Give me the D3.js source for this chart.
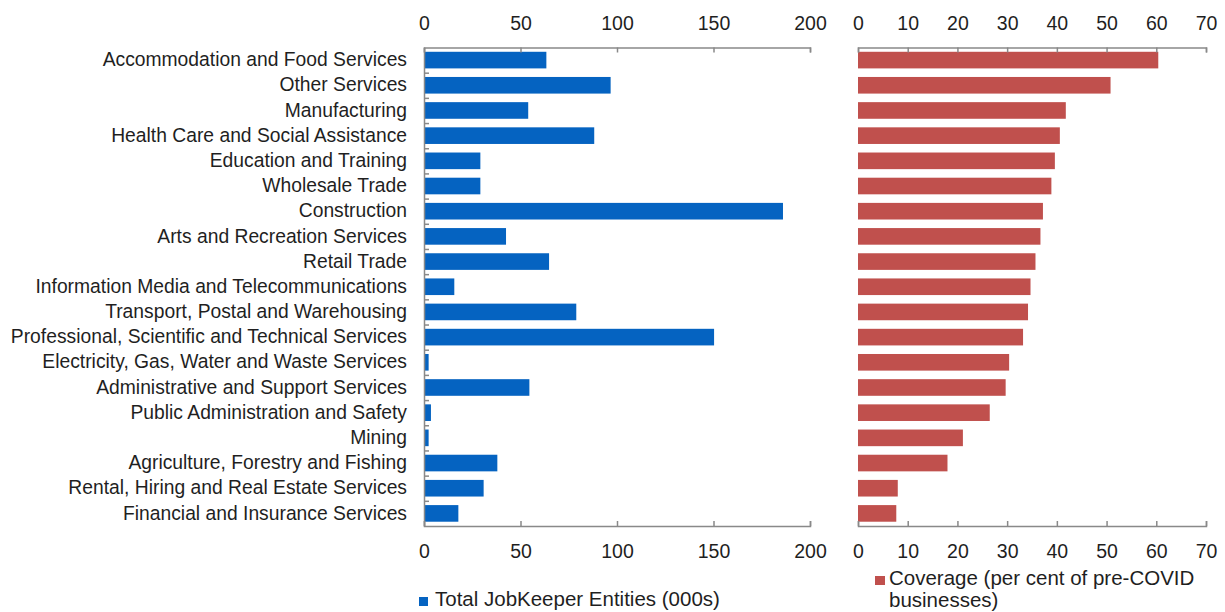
<!DOCTYPE html>
<html>
<head>
<meta charset="utf-8">
<script src="https://cdn.jsdelivr.net/npm/d3@7"></script>
<style>
  body { margin: 0; background: #fff; }
  svg { display: block; font-family: "Liberation Sans", Arial, sans-serif; }
  .axis path, .axis line { stroke: #898989; stroke-width: 1.5; }
  .axis text { fill: #1f1f1f; }
</style>
</head>
<body>
<div class="chart"></div>
<script>
// categories, top to bottom
var industries = [
  "Accommodation and Food Services",
  "Other Services",
  "Manufacturing",
  "Health Care and Social Assistance",
  "Education and Training",
  "Wholesale Trade",
  "Construction",
  "Arts and Recreation Services",
  "Retail Trade",
  "Information Media and Telecommunications",
  "Transport, Postal and Warehousing",
  "Professional, Scientific and Technical Services",
  "Electricity, Gas, Water and Waste Services",
  "Administrative and Support Services",
  "Public Administration and Safety",
  "Mining",
  "Agriculture, Forestry and Fishing",
  "Rental, Hiring and Real Estate Services",
  "Financial and Insurance Services"
];

// total JobKeeper entities (000s)
var entities = [63.4, 96.7, 54.0, 88.2, 29.2, 29.2, 186.0, 42.5, 64.8, 15.7,
  78.9, 150.3, 2.4, 54.6, 3.6, 2.4, 38.0, 30.9, 17.8];

// coverage, per cent of pre-COVID businesses
var coverage = [60.4, 50.8, 41.8, 40.6, 39.6, 38.9, 37.2, 36.7, 35.7, 34.7,
  34.2, 33.2, 30.4, 29.7, 26.5, 21.1, 18.0, 8.0, 7.7];

var entitiesTicks = [0, 50, 100, 150, 200];
var coverageTicks = [0, 10, 20, 30, 40, 50, 60, 70];

var legendEntities = "Total JobKeeper Entities (000s)";
var legendCoverage = ["Coverage (per cent of pre-COVID", "businesses)"];

var width = 1225, height = 612;
var top_y = 47.5, bottom_y = 526;
var blue = "#0563c1", red = "#c0504d";

var svg = d3.select(".chart")
  .append("svg")
  .attr("width", width)
  .attr("height", height);

let yScale = d3.scaleBand()
  .domain(industries)
  .range([top_y, bottom_y])
  .paddingInner(0.34)
  .paddingOuter(0.17);

let xLeft = d3.scaleLinear().domain([0, 200]).range([424, 810]);
let xRight = d3.scaleLinear().domain([0, 70]).range([858, 1206]);

// bars
svg.append("g")
  .selectAll("rect")
  .data(industries)
  .enter()
  .append("rect")
  .attr("x", xLeft(0))
  .attr("y", function(d) { return yScale(d); })
  .attr("width", function(d, i) { return xLeft(entities[i]) - xLeft(0); })
  .attr("height", yScale.bandwidth())
  .attr("fill", blue);

svg.append("g")
  .selectAll("rect")
  .data(industries)
  .enter()
  .append("rect")
  .attr("x", xRight(0))
  .attr("y", function(d) { return yScale(d); })
  .attr("width", function(d, i) { return xRight(coverage[i]) - xRight(0); })
  .attr("height", yScale.bandwidth())
  .attr("fill", red);

// horizontal axes, top and bottom of both panels
function hAxes(scale, ticks) {
  svg.append("g")
    .attr("class", "axis")
    .attr("transform", "translate(0," + top_y + ")")
    .call(d3.axisTop(scale).tickValues(ticks).tickSize(-5).tickPadding(18))
    .selectAll("text").style("font-size", "19.5px");

  svg.append("g")
    .attr("class", "axis")
    .attr("transform", "translate(0," + bottom_y + ")")
    .call(d3.axisBottom(scale).tickValues(ticks).tickSize(-5).tickPadding(18))
    .selectAll("text").style("font-size", "19.5px");
}
hAxes(xLeft, entitiesTicks);
hAxes(xRight, coverageTicks);

svg.selectAll(".axis text").attr("font-family", null);

// vertical axis of left panel, small ticks between categories
let yEdges = d3.scaleLinear().domain([0, industries.length]).range([top_y, bottom_y]);
svg.append("g")
  .attr("class", "axis")
  .attr("transform", "translate(" + xLeft(0) + ",0)")
  .call(d3.axisRight(yEdges).tickValues(d3.range(1, industries.length)).tickSize(5).tickSizeOuter(0).tickFormat(""));

// category labels
let labels = svg.append("g")
  .attr("class", "axis")
  .attr("transform", "translate(" + xLeft(0) + ",0)")
  .call(d3.axisLeft(yScale).tickSize(0).tickPadding(17));
labels.select(".domain").remove();
labels.selectAll("text").style("font-size", "19.3px");

// legends
svg.append("rect")
  .attr("x", 419).attr("y", 597)
  .attr("width", 9).attr("height", 9)
  .attr("fill", blue);
svg.append("text")
  .attr("x", 435).attr("y", 606)
  .style("font-size", "20.5px")
  .attr("fill", "#1f1f1f")
  .text(legendEntities);

svg.append("rect")
  .attr("x", 875).attr("y", 576)
  .attr("width", 10).attr("height", 9)
  .attr("fill", red);
svg.append("text")
  .attr("x", 889).attr("y", 585)
  .style("font-size", "20.5px")
  .attr("fill", "#1f1f1f")
  .selectAll("tspan")
  .data(legendCoverage)
  .enter()
  .append("tspan")
  .attr("x", 889)
  .attr("dy", function(d, i) { return i == 0 ? 0 : 22; })
  .text(function(d) { return d; });
</script>
</body>
</html>
